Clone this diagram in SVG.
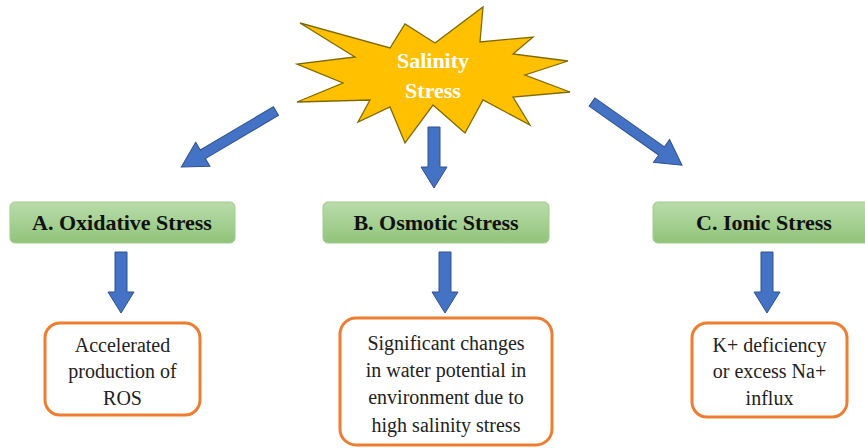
<svg xmlns="http://www.w3.org/2000/svg" width="865" height="448" viewBox="0 0 865 448">
<style>
.arrow{fill:#4472C4;stroke:#2F528F;stroke-width:1}
.green{fill:url(#gg);stroke:#9FCB8C;stroke-width:1}
.orange{fill:#fff;stroke:#ED7D31;stroke-width:3}
.h{font-weight:bold;font-size:22px;fill:#111;text-anchor:middle}
.t{font-size:20px;fill:#222;text-anchor:middle}
.s{font-weight:bold;font-size:22px;fill:#fff;text-anchor:middle}
</style>
<defs>
<linearGradient id="gg" x1="0" y1="0" x2="0" y2="1">
<stop offset="0" stop-color="#B9DCAA"/>
<stop offset="1" stop-color="#90C47A"/>
</linearGradient>
<polygon id="down" points="-6,0 6,0 6,40 13,40 0,61 -13,40 -6,40"/>
<polygon id="diag" points="-5,0 5,0 5,85 14,85 0,110 -14,85 -5,85"/>
</defs>
<rect width="865" height="448" fill="#fff"/>
<g id="connectors">
<use href="#diag" class="arrow" transform="translate(276,111) rotate(59.4)"/>
<use href="#down" class="arrow" transform="translate(434,127)"/>
<use href="#diag" class="arrow" transform="translate(592,102) rotate(-54.9)"/>
<use href="#down" class="arrow" transform="translate(121,252)"/>
<use href="#down" class="arrow" transform="translate(445,252)"/>
<use href="#down" class="arrow" transform="translate(767,252)"/>
</g>
<g font-family="Liberation Serif, Times New Roman, serif">
<g id="salinity">
<polygon points="300,23 390,48 405,24 435,43 483,7 480,42 533,37 513,54 568,61 525,75 570,92 513,97 530,125 483,100 465,133 433,105 405,143 390,107 358,122 370,100 297,102 343,83 297,64 355,57" fill="#FFC000" stroke="#7F6A00" stroke-width="1.3"/>
<text class="s" x="433" y="68">Salinity</text>
<text class="s" x="433" y="98">Stress</text>
</g>
<g id="oxidative">
<rect class="green" x="10" y="202" width="225" height="41" rx="5"/>
<text class="h" x="122" y="230">A. Oxidative Stress</text>
</g>
<g id="osmotic">
<rect class="green" x="323" y="202" width="226" height="41" rx="5"/>
<text class="h" x="436" y="230">B. Osmotic Stress</text>
</g>
<g id="ionic">
<rect class="green" x="653" y="202" width="224" height="41" rx="5"/>
<text class="h" x="764" y="230">C. Ionic Stress</text>
</g>
<g id="ros">
<rect class="orange" x="45" y="323" width="155" height="92" rx="15"/>
<text class="t" x="122.5" y="352">Accelerated</text>
<text class="t" x="122.5" y="378">production of</text>
<text class="t" x="122.5" y="405">ROS</text>
</g>
<g id="water">
<rect class="orange" x="340" y="318" width="212" height="127" rx="16"/>
<text class="t" x="446" y="350">Significant changes</text>
<text class="t" x="446" y="377">in water potential in</text>
<text class="t" x="446" y="404">environment due to</text>
<text class="t" x="446" y="432">high salinity stress</text>
</g>
<g id="ion">
<rect class="orange" x="692" y="323" width="155" height="94" rx="15"/>
<text class="t" x="769.5" y="352">K+ deficiency</text>
<text class="t" x="769.5" y="378">or excess Na+</text>
<text class="t" x="769.5" y="405">influx</text>
</g>
</g>
</svg>
